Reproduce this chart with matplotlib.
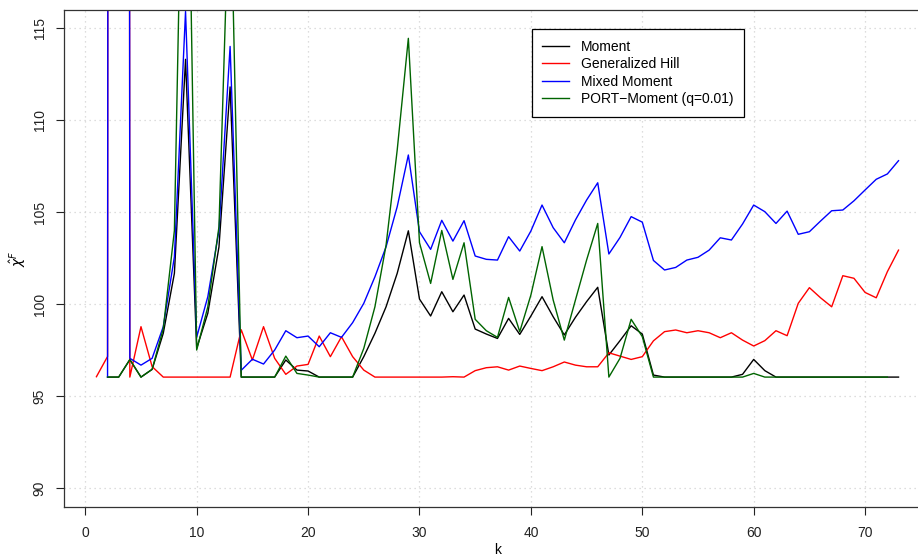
import numpy as np
import matplotlib
matplotlib.use("Agg")
import matplotlib.pyplot as plt

plt.rcParams['font.family'] = ['Liberation Sans', 'DejaVu Sans']

# Extreme-value endpoint estimates against the number of top order statistics k
k_moment = list(range(2, 74))
moment = [96.03, 96.03, 96.98, 96.03, 96.45, 98.41, 101.67, 113.3, 97.6, 99.5,
          103.1, 111.8, 96.03, 96.03, 96.03, 96.03, 96.96, 96.41, 96.36, 96.03,
          96.03, 96.03, 96.03, 97.14, 98.41, 99.85, 101.67, 103.98, 100.27, 99.35,
          100.67, 99.58, 100.49, 98.64, 98.37, 98.13, 99.22, 98.35, 99.35, 100.4,
          99.31, 98.32, 99.28, 100.13, 100.91, 97.23, 98.01, 98.82, 98.37, 96.14,
          96.03, 96.03, 96.03, 96.03, 96.03, 96.03, 96.03, 96.18, 96.99, 96.38,
          96.03, 96.03, 96.03, 96.03, 96.03, 96.03, 96.03, 96.03, 96.03, 96.03,
          96.03, 96.03]

k_genhill = list(range(1, 74))
genhill = [96.05, 97.15, 1000.0, 96.03, 98.77, 96.6, 96.03, 96.03, 96.03, 96.03,
           96.03, 96.03, 96.03, 98.6, 96.96, 98.77, 97.05, 96.18, 96.63, 96.72,
           98.26, 97.14, 98.22, 97.14, 96.41, 96.03, 96.03, 96.03, 96.03, 96.03,
           96.03, 96.03, 96.05, 96.03, 96.38, 96.54, 96.59, 96.41, 96.63, 96.5,
           96.38, 96.59, 96.85, 96.68, 96.59, 96.59, 97.35, 97.17, 96.99, 97.14,
           98.0, 98.5, 98.59, 98.44, 98.55, 98.44, 98.17, 98.44, 98.04, 97.72,
           98.01, 98.55, 98.28, 100.04, 100.89, 100.34, 99.85, 101.54, 101.4, 100.63,
           100.34, 101.76, 102.93]

k_mixed = list(range(2, 74))
mixed = [96.03, 1000.0, 97.05, 96.68, 97.05, 98.77, 102.57, 115.9, 98.2, 100.4,
         104.0, 114.0, 96.4, 97.0, 96.74, 97.5, 98.55, 98.17, 98.26, 97.68,
         98.44, 98.19, 98.99, 100.04, 101.48, 103.11, 105.29, 108.1, 103.93, 102.97,
         104.55, 103.42, 104.53, 102.61, 102.43, 102.39, 103.66, 102.88, 103.97, 105.38,
         104.15, 103.33, 104.57, 105.65, 106.59, 102.72, 103.62, 104.75, 104.45, 102.37,
         101.85, 101.99, 102.39, 102.54, 102.93, 103.6, 103.48, 104.35, 105.38, 105.02,
         104.38, 105.05, 103.79, 103.93, 104.51, 105.07, 105.11, 105.61, 106.2, 106.78,
         107.07, 107.79]

k_port = list(range(2, 73))
port = [96.03, 96.03, 96.98, 96.03, 96.45, 98.66, 104.0, 135.0, 97.5, 99.85,
        104.2, 124.0, 96.03, 96.03, 96.03, 96.03, 97.17, 96.23, 96.14, 96.03,
        96.03, 96.03, 96.03, 97.59, 99.85, 103.2, 108.37, 114.44, 103.33, 101.12,
        104.0, 101.34, 103.33, 99.17, 98.55, 98.19, 100.36, 98.5, 100.49, 103.12,
        100.22, 98.04, 100.22, 102.39, 104.38, 96.03, 97.05, 99.17, 98.23, 96.03,
        96.03, 96.03, 96.03, 96.03, 96.03, 96.03, 96.03, 96.03, 96.23, 96.03,
        96.03, 96.03, 96.03, 96.03, 96.03, 96.03, 96.03, 96.03, 96.03, 96.03,
        96.03]

labels = ["Moment", "Generalized Hill", "Mixed Moment", "PORT\u2212Moment (q=0.01)"]
colors = ["black", "red", "blue", "darkgreen"]

x_ticks = [0, 10, 20, 30, 40, 50, 60, 70]
y_ticks = [90, 95, 100, 105, 110, 115]

W, H = 918, 558
fig = plt.figure(figsize=(W / 100, H / 100), dpi=100)
left, right, top, bottom = 64, 930.6, 10, 507
ax = fig.add_axes([left / W, 1 - bottom / H, (right - left) / W, (bottom - top) / H])

for kk, vals, lab, col in zip([k_moment, k_genhill, k_mixed, k_port],
                              [moment, genhill, mixed, port], labels, colors):
    ax.plot(kk, vals, color=col, lw=1.0, label=lab)

ax.set_xlim(-1.91, 75.88)
ax.set_ylim(88.97, 115.98)
ax.set_xticks(x_ticks)
ax.set_yticks(y_ticks)
ax.set_yticklabels([str(v) for v in y_ticks], rotation=90, va='center')
ax.tick_params(axis='both', direction='out', length=5.5, width=0.8,
               labelsize=10, colors='#222222', labelcolor='#222222')
ax.tick_params(axis='x', pad=8)
ax.tick_params(axis='y', pad=7)

ax.grid(True, color='#d3d3d3', linestyle=(0, (1, 3)), linewidth=0.9)
ax.set_axisbelow(True)
for s in ax.spines.values():
    s.set_linewidth(0.9)
    s.set_color('#333333')

ax.set_xlabel('k', fontsize=10)
ax.xaxis.set_label_coords(0.5, -0.072)
ax.set_ylabel(r'$\hat{\chi}^{F}$', fontsize=10)
ax.yaxis.set_label_coords(-0.042, 0.5)

leg = ax.legend(loc='upper left', bbox_to_anchor=(531.7 / W, 1 - 29.3 / H),
                bbox_transform=fig.transFigure, borderaxespad=0,
                fancybox=False, framealpha=1, edgecolor='black',
                fontsize=10, handlelength=1.9, handletextpad=0.9,
                labelspacing=0.25, borderpad=0.75)
leg.get_frame().set_linewidth(0.9)

fig.savefig('out.png', dpi=100)
